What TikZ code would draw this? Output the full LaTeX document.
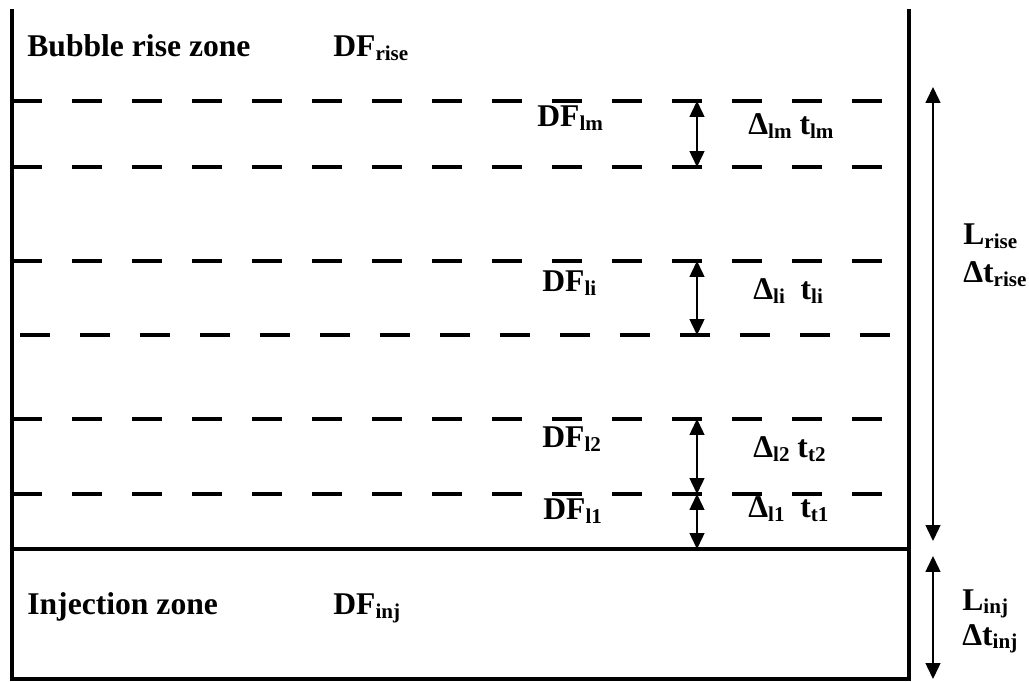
\documentclass[tikz,border=0pt]{standalone}
\usepackage{fontspec}
\setmainfont{Liberation Serif}
\usetikzlibrary{arrows.meta}
\newcommand{\lo}[1]{\raisebox{-0.12em}{\fontsize{12}{12}\selectfont #1}}
\tikzset{
	wall/.style={line width=0.08cm, line join=miter},
	dashline/.style={line width=0.08cm, dash pattern=on 0.6cm off 0.6cm},
	sizearrow/.style={line width=0.03cm, {Triangle[width=0.3cm,length=0.32cm]}-{Triangle[width=0.3cm,length=0.32cm]}},
	lbl/.style={anchor=base west, inner sep=0pt, font=\fontsize{18}{20}\selectfont\bfseries},
}
\begin{document}
\begin{tikzpicture}[x=0.02cm,y=-0.02cm]
			\useasboundingbox (0,0) rectangle (1029,682);
			% column walls
			\draw[wall] (12,9) -- (12,679) -- (909,679) -- (909,9);
			\draw[wall] (12,549) -- (909,549);
			% layer boundaries
			\foreach \yy in {101,167,261,419,494}
				\draw[dashline] (12,\yy) -- (882,\yy);
			\draw[dashline] (20,335) -- (890,335);
			% layer thickness
			\coordinate (lmT) at (697,101);
			\coordinate (lmB) at (697,167);
			\coordinate (liT) at (697,261);
			\coordinate (liB) at (697,335);
			\coordinate (ltwoT) at (697,419);
			\coordinate (loneT) at (697,494);
			\coordinate (loneB) at (697,549);
			\draw[sizearrow] (lmT) -- (lmB);
			\draw[sizearrow] (liT) -- (liB);
			\draw[sizearrow] (ltwoT) -- (loneT);
			\draw[sizearrow] (loneT) -- (loneB);
			% zone lengths
			\coordinate (riseT) at (933,87);
			\coordinate (riseB) at (933,541);
			\coordinate (injT) at (933,556);
			\coordinate (injB) at (933,679);
			\draw[sizearrow] (riseT) -- (riseB);
			\draw[sizearrow] (injT) -- (injB);
			% labels
			\node[lbl] (risezone) at (27,57) {Bubble rise zone};
			\node[lbl] (dfrise) at (333,57) {DF\lo{rise}};
			\node[lbl] (dflm) at (537,127) {DF\lo{lm}};
			\node[lbl] (tlm) at (748,135) {Δ\lo{lm} t\lo{lm}};
			\node[lbl] (dfli) at (542,292) {DF\lo{li}};
			\node[lbl] (tli) at (753,300) {Δ\lo{li}\ \ t\lo{li}};
			\node[lbl] (dfltwo) at (542,448) {DF\lo{l2}};
			\node[lbl] (tltwo) at (753,458) {Δ\lo{l2} t\lo{t2}};
			\node[lbl] (dflone) at (543,520) {DF\lo{l1}};
			\node[lbl] (tlone) at (748,518) {Δ\lo{l1}\ \ t\lo{t1}};
			\node[lbl] (injzone) at (27,615) {Injection zone};
			\node[lbl] (dfinj) at (333,615) {DF\lo{inj}};
			\node[lbl] (lrise) at (963,245) {L\lo{rise}};
			\node[lbl] (trise) at (963,283) {Δt\lo{rise}};
			\node[lbl] (linj) at (962,610) {L\lo{inj}};
			\node[lbl] (tinj) at (962,645) {Δt\lo{inj}};
		\end{tikzpicture}
\end{document}
